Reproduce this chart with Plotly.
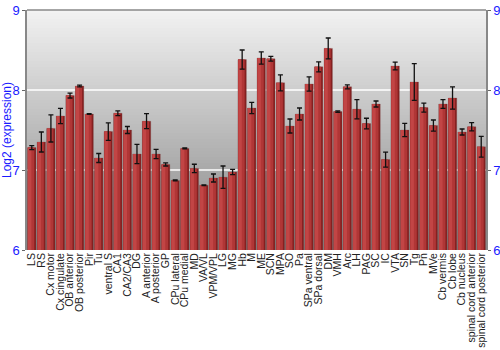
import plotly.graph_objects as go

regions = ["LS", "RS", "Cx motor", "Cx cingulate", "OB anterior", "OB posterior", "Pir", "Tu",
           "ventral S", "CA1", "CA2/CA3", "DG", "A anterior", "A posterior", "GP", "CPu lateral",
           "CPu medial", "MD", "VA/VL", "VPM/VPL", "LG", "MG", "Hb", "M", "ME", "SCN", "MPA",
           "SO", "Pa", "SPa ventral", "SPa dorsal", "DM", "VMH", "Arc", "LH", "PAG", "SC", "IC",
           "VTA", "SN", "Tg", "Pn", "MVe", "Cb vermis", "Cb lobe", "Cb nucleus",
           "spinal cord anterior", "spinal cord posterior"]

expression = [7.28, 7.35, 7.52, 7.675, 7.93, 8.05, 7.70, 7.15,
              7.48, 7.71, 7.50, 7.20, 7.61, 7.20, 7.07, 6.87,
              7.27, 7.02, 6.81, 6.90, 6.91, 6.975, 8.38, 7.775, 8.40, 8.39, 8.09,
              7.55, 7.70, 8.075, 8.29, 8.52, 7.73, 8.04, 7.76, 7.58, 7.825, 7.13,
              8.30, 7.50, 8.10, 7.78, 7.555, 7.825, 7.90, 7.475,
              7.54, 7.29]

errors = [0.025, 0.125, 0.17, 0.096, 0.03, 0.01, 0.005, 0.056,
          0.11, 0.03, 0.044, 0.12, 0.094, 0.058, 0.02, 0.005,
          0.005, 0.052, 0.005, 0.05, 0.14, 0.033, 0.12, 0.07, 0.077, 0.03, 0.10,
          0.0875, 0.075, 0.09, 0.0625, 0.13, 0.01, 0.025, 0.12, 0.067, 0.0375, 0.094,
          0.048, 0.083, 0.23, 0.056, 0.07, 0.054, 0.14, 0.0375,
          0.052, 0.13]

y_ticks = [6, 7, 8, 9]
y_min, y_max = y_ticks[0], y_ticks[-1]

fig = go.Figure()

# layered bars to mimic the cylindrical shading
fig.add_trace(go.Bar(x=regions, y=expression, width=0.88, offset=-0.44,
                     marker=dict(color="#862020", line=dict(color="rgba(110,70,70,0.5)", width=0.5)),
                     showlegend=False, hoverinfo="skip"))
fig.add_trace(go.Bar(x=regions, y=expression, width=0.68, offset=-0.42,
                     marker=dict(color="#b03636", line=dict(width=0)),
                     showlegend=False, hoverinfo="skip"))
fig.add_trace(go.Bar(x=regions, y=expression, width=0.36, offset=-0.40,
                     marker=dict(color="#c24545", line=dict(width=0)),
                     showlegend=False, hoverinfo="skip"))
# error bars on top
fig.add_trace(go.Bar(x=regions, y=expression, width=0.88, offset=-0.44,
                     marker=dict(color="rgba(0,0,0,0)", line=dict(width=0)),
                     error_y=dict(type="data", array=errors, visible=True,
                                  color="#111111", thickness=1.3, width=2.5),
                     showlegend=False))
# invisible trace for right axis
fig.add_trace(go.Scatter(x=[regions[0]], y=[y_min], yaxis="y2", mode="markers",
                         marker=dict(opacity=0), showlegend=False, hoverinfo="skip"))

# vertical gradient background
shapes = []
n = 80
for i in range(n):
    t = i / n
    c = int(242 - 110 * t)
    shapes.append(dict(type="rect", xref="paper", yref="paper",
                       x0=0, x1=1, y0=1 - (i + 1) / n, y1=1 - i / n,
                       fillcolor=f"rgb({c},{c},{c})", line=dict(width=0), layer="below"))
# white grid lines over the gradient
for v in y_ticks[1:-1]:
    f = (v - y_min) / (y_max - y_min)
    shapes.append(dict(type="line", xref="paper", yref="paper", x0=0, x1=1, y0=f, y1=f,
                       line=dict(color="white", width=1.5), layer="below"))
shapes.append(dict(type="line", xref="paper", yref="paper", x0=0, x1=1, y0=1, y1=1,
                   line=dict(color="#888888", width=1.5)))

fig.update_layout(
    width=500, height=350,
    margin=dict(l=27, r=14, t=10, b=100, autoexpand=False),
    paper_bgcolor="white", plot_bgcolor="white",
    barmode="overlay", bargap=0.1,
    shapes=shapes,
    font=dict(family="Liberation Sans, Arial, sans-serif"),
    xaxis=dict(tickangle=-90, tickfont=dict(size=10.5, color="#222222"),
               tickmode="array", tickvals=regions, ticktext=regions,
               showgrid=False, showline=False, ticks="", ticklen=0, automargin=False,
               range=[-0.5, len(regions) - 0.5]),
    yaxis=dict(range=[y_min, y_max], tickvals=y_ticks, tickfont=dict(size=13, color="#1a1aff"),
               title=dict(text="Log2 (expression)", font=dict(size=12, color="#1a1aff"), standoff=3),
               showgrid=False, automargin=False,
               showline=True, linecolor="#888888", linewidth=1.5,
               ticks="outside", ticklen=3, tickcolor="#666666", zeroline=False),
    yaxis2=dict(range=[y_min, y_max], tickvals=y_ticks, overlaying="y", side="right",
                tickfont=dict(size=13, color="#1a1aff"), showgrid=False, automargin=False,
                showline=True, linecolor="#888888", linewidth=1.5,
                ticks="outside", ticklen=3, tickcolor="#666666", zeroline=False),
)

fig.write_html("out.html")
